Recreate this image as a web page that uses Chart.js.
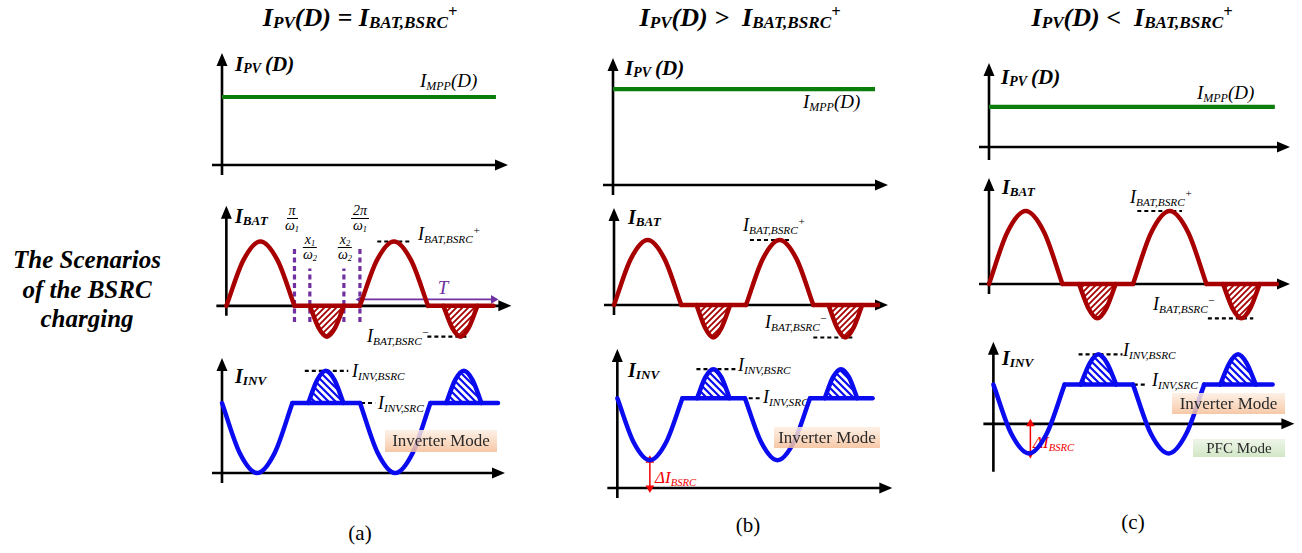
<!DOCTYPE html>
<html>
<head>
<meta charset="utf-8">
<title>BSRC charging scenarios</title>
<script src="https://cdn.jsdelivr.net/npm/chart.js@4.4.0/dist/chart.umd.min.js"></script>
<style>
  html, body { margin: 0; padding: 0; background: #fff; }
  #page {
    position: relative; width: 1302px; height: 553px; overflow: hidden;
    font-family: "Liberation Serif", "Tinos", "Times New Roman", Times, "DejaVu Serif", serif; color: #000;
  }
  #page canvas { position: absolute; z-index: 2; }
  .lbl { position: absolute; white-space: nowrap; line-height: 1; font-style: italic; z-index: 1; }
  .lbl sub { font-size: 0.63em; vertical-align: -0.28em; line-height: 0; }
  .lbl sup { font-size: 0.63em; vertical-align: 0.55em; line-height: 0; }
  .bold { font-weight: bold; }
  .bold sub { font-size: 0.66em; vertical-align: -0.14em; }
  .plain { font-style: normal; }
  .frac {
    position: absolute; display: flex; flex-direction: column; align-items: center;
    font-style: italic; font-size: 14px; line-height: 14px; transform: translateX(-50%); z-index: 1;
  }
  .frac .num { border-bottom: 1px solid #000; padding: 0 2px; }
  .frac sub { font-size: 0.6em; line-height: 0; vertical-align: -0.2em; }
  .mode {
    position: absolute; z-index: 3; display: flex; align-items: center; justify-content: center;
    font-size: 17px; color: #2a2a2a; white-space: nowrap;
  }
  .inverter { background: linear-gradient(180deg, rgba(253,238,226,0.85) 0%, rgba(248,206,175,0.85) 70%, rgba(244,190,152,0.85) 100%); }
  .pfc { background: linear-gradient(180deg, rgba(236,244,230,0.9) 0%, rgba(205,228,192,0.9) 100%); font-size: 15px; }
</style>
</head>
<body>
<div id="page"></div>
<script>
// ---- waveform data (time in arbitrary units, one grid period = 20) ----
const pvT = [0, 39.7];
const chargeT1 = [0, 2.55, 5.1, 7.65, 10.2];
const chargeT2 = [20, 22.55, 25.1, 27.65, 30.2];
const dischargeT1 = [12.5, 13.8, 15.05, 16.3, 17.6];
const dischargeT2 = [32.5, 33.8, 35.05, 36.3, 37.6];
const idleT1 = [10.2, 20];
const idleT2 = [30.2, 40];

// PV current level for scenarios (a), (b), (c)
const pvLevel = [1.0, 1.41, 0.59];

// battery current: charging lobe (same in every scenario) and discharging lobe
const batCharge = [0, 0.71, 1, 0.71, 0];
const batDischargeA = [0, -0.34, -0.48, -0.34, 0];
const batDischargeB = [0, -0.35, -0.5, -0.35, 0];
const batDischargeC = [0, -0.33, -0.47, -0.33, 0];

// inverter current: dip while the battery charges, hump while it discharges
const invDipA = [1.0, 0.29, 0, 0.29, 1.0];
const invHumpA = [1.0, 1.33, 1.46, 1.33, 1.0];
const invDipB = [1.45, 0.74, 0.45, 0.74, 1.45];
const invHumpB = [1.45, 1.79, 1.92, 1.79, 1.45];
const invDipC = [0.57, -0.14, -0.43, -0.14, 0.57];
const invHumpC = [0.57, 0.88, 1.01, 0.88, 0.57];

// spans of the dashed level markers
const batPeakRef = [[22.6, 27.7], [20.6, 26.7], [20.6, 26.8]];
const batDipRef = [[30.1, 36.4], [30.2, 36.5], [30.4, 36.7]];
const invBsrcRef = [[12.0, 18.3], [12.4, 18.5], [12.2, 18.5]];
const invSrcRef = [[17.1, 22.2], [17.3, 22.3], [17.1, 22.1]];

// switching instants marked in scenario (a): pi/w1, x1/w2, x2/w2, 2pi/w1
const markT = [10.2, 12.5, 17.6, 20];
const markTop = [0.91, 0.58, 0.58, 0.91];
const markBottom = -0.25;
const periodSpan = [20.1, 40];
const periodLevel = 0.1;

// delta I_BSRC arrows in (b) and (c)
const deltaT = [5.1, 5.3];

const RED = '#a80000', BLUE = '#0b0bf0', GREEN = '#0a7d0a', PURPLE = '#7030a0';

// pixel frames of the nine plots: origin, scale per unit, axis extents
const frames = {
  pvA:  { ox: 222, oy: 165, sx: 6.9, sy: 68, tip: 508, yTop: 53, yBot: 175, bottom: 182 },
  batA: { ox: 222, oy: 308, sx: 6.9, sy: 69, tip: 507, yTop: 208, yBot: 318, bottom: 350 },
  invA: { ox: 222, oy: 473, sx: 6.9, sy: 70, tip: 505, yTop: 358, yBot: 483, bottom: 490 },
  pvB:  { ox: 613, oy: 185, sx: 6.6, sy: 68, tip: 888, yTop: 58, yBot: 195, bottom: 202 },
  batB: { ox: 614, oy: 305, sx: 6.6, sy: 65, tip: 888, yTop: 208, yBot: 315, bottom: 346 },
  invB: { ox: 613, oy: 492, sx: 6.6, sy: 66, tip: 888, yTop: 353, yBot: 502, bottom: 508 },
  pvC:  { ox: 989, oy: 147, sx: 7.2, sy: 68, tip: 1290, yTop: 63, yBot: 160, bottom: 166 },
  batC: { ox: 989, oy: 284, sx: 7.2, sy: 73, tip: 1290, yTop: 178, yBot: 294, bottom: 326 },
  invC: { ox: 989, oy: 425, sx: 7.2, sy: 74, tip: 1290, yTop: 343, yBot: 473, bottom: 480 }
};

const page = document.getElementById('page');

// diagonal hatch used inside the shaded lobes
function hatch(color, dir, size, width) {
  const c = document.createElement('canvas');
  c.width = c.height = size;
  const g = c.getContext('2d');
  g.strokeStyle = color;
  g.lineWidth = width;
  g.beginPath();
  const h = size / 2;
  if (dir > 0) {
    g.moveTo(0, size); g.lineTo(size, 0);
    g.moveTo(-h, h); g.lineTo(h, -h);
    g.moveTo(h, size + h); g.lineTo(size + h, h);
  } else {
    g.moveTo(0, 0); g.lineTo(size, size);
    g.moveTo(-h, h); g.lineTo(h, size + h);
    g.moveTo(h, -h); g.lineTo(size + h, h);
  }
  g.stroke();
  return g.createPattern(c, 'repeat');
}
const redHatch = hatch(RED, 1, 6, 1.8);
const blueHatch = hatch(BLUE, -1, 7, 2.2);

// x/y axes with arrow heads, drawn under the waveforms
const axisArrows = {
  id: 'axisArrows',
  beforeDatasetsDraw(chart, args, f) {
    const { ctx, scales: { x, y } } = chart;
    const x0 = x.getPixelForValue(0);
    const y0 = y.getPixelForValue(0);
    const tipX = x0 + (f.tip - f.ox);
    const topY = y0 - (f.oy - f.yTop);
    const botY = y0 + (f.yBot - f.oy);
    ctx.save();
    ctx.strokeStyle = '#000';
    ctx.fillStyle = '#000';
    ctx.lineWidth = 2.6;
    ctx.beginPath();
    ctx.moveTo(x0 - 10, y0); ctx.lineTo(tipX - 8, y0);
    ctx.moveTo(x0, botY); ctx.lineTo(x0, topY + 8);
    ctx.stroke();
    ctx.beginPath();
    ctx.moveTo(tipX, y0); ctx.lineTo(tipX - 13, y0 - 5.5); ctx.lineTo(tipX - 13, y0 + 5.5);
    ctx.closePath();
    ctx.moveTo(x0, topY); ctx.lineTo(x0 - 5.5, topY + 13); ctx.lineTo(x0 + 5.5, topY + 13);
    ctx.closePath();
    ctx.fill();
    ctx.restore();
  }
};

function pts(xs, ys) {
  return xs.map((x, i) => ({ x: x, y: ys[i] }));
}

function wave(xs, ys, color, extra) {
  return Object.assign({
    data: pts(xs, ys),
    borderColor: color,
    borderWidth: 4.5,
    pointRadius: 0,
    cubicInterpolationMode: 'monotone',
    fill: false,
    clip: false,
    borderCapStyle: 'round',
    borderJoinStyle: 'round'
  }, extra || {});
}

function dashed(span, level, color, width, dash) {
  return {
    data: pts(span, [level, level]),
    borderColor: color || '#000',
    borderWidth: width || 2.2,
    borderDash: dash || [4, 3],
    pointRadius: 0,
    fill: false,
    clip: false
  };
}

function arrow(xs, ys, color, rotations, width) {
  return {
    data: pts(xs, ys),
    borderColor: color,
    backgroundColor: color,
    borderWidth: width,
    pointStyle: 'triangle',
    pointRadius: 5,
    pointBorderWidth: 0,
    pointBackgroundColor: color,
    pointRotation: rotations,
    fill: false,
    clip: false
  };
}

function makePlot(f, datasets) {
  const left = f.ox - 20, right = f.tip + 6, top = f.yTop - 6, bottom = f.bottom;
  const canvas = document.createElement('canvas');
  canvas.width = right - left;
  canvas.height = bottom - top;
  canvas.style.left = left + 'px';
  canvas.style.top = top + 'px';
  page.appendChild(canvas);
  return new Chart(canvas, {
    type: 'line',
    data: { datasets: datasets },
    options: {
      responsive: false,
      animation: false,
      events: [],
      layout: { padding: 0 },
      plugins: {
        legend: { display: false },
        tooltip: { enabled: false },
        axisArrows: f
      },
      scales: {
        x: { type: 'linear', display: false, min: (left - f.ox) / f.sx, max: (right - f.ox) / f.sx },
        y: { type: 'linear', display: false, min: (f.oy - bottom) / f.sy, max: (f.oy - top) / f.sy }
      }
    },
    plugins: [axisArrows]
  });
}

function pvSets(level) {
  return [wave(pvT, [level, level], GREEN, { borderWidth: 4.2, borderCapStyle: 'butt' })];
}

function batSets(dis, peakRef, dipRef) {
  const fillDis = { fill: 'origin', backgroundColor: redHatch };
  return [
    wave(chargeT1, batCharge, RED),
    wave(dischargeT1, dis, RED, fillDis),
    wave(idleT1, [0, 0], RED),
    wave(chargeT2, batCharge, RED),
    wave(dischargeT2, dis, RED, fillDis),
    wave(idleT2, [0, 0], RED),
    dashed(peakRef, batCharge[2]),
    dashed(dipRef, dis[2])
  ];
}

function invSets(dip, hump, bsrcRef, srcRef) {
  const level = dip[0];
  const fillHump = { fill: { value: level }, backgroundColor: blueHatch };
  return [
    wave(chargeT1, dip, BLUE),
    wave(dischargeT1, hump, BLUE, fillHump),
    wave(idleT1, [level, level], BLUE),
    wave(chargeT2, dip, BLUE),
    wave(dischargeT2, hump, BLUE, fillHump),
    wave(idleT2, [level, level], BLUE),
    dashed(bsrcRef, hump[2]),
    dashed(srcRef, level)
  ];
}

// scenario (a)
makePlot(frames.pvA, pvSets(pvLevel[0]));
const batA = batSets(batDischargeA, batPeakRef[0], batDipRef[0]);
markT.forEach((t, i) => {
  batA.push({
    data: pts([t, t], [markBottom, markTop[i]]),
    borderColor: PURPLE, borderWidth: 3.2, borderDash: [5, 3.5],
    pointRadius: 0, fill: false, clip: false
  });
});
batA.push(arrow(periodSpan, [periodLevel, periodLevel], PURPLE, [270, 90], 1.6));
makePlot(frames.batA, batA);
makePlot(frames.invA, invSets(invDipA, invHumpA, invBsrcRef[0], invSrcRef[0]));

// scenario (b)
makePlot(frames.pvB, pvSets(pvLevel[1]));
makePlot(frames.batB, batSets(batDischargeB, batPeakRef[1], batDipRef[1]));
const invB = invSets(invDipB, invHumpB, invBsrcRef[1], invSrcRef[1]);
invB.push(arrow([deltaT[0], deltaT[0]], [0, invDipB[2]], '#f00000', [180, 0], 1.5));
makePlot(frames.invB, invB);

// scenario (c)
makePlot(frames.pvC, pvSets(pvLevel[2]));
makePlot(frames.batC, batSets(batDischargeC, batPeakRef[2], batDipRef[2]));
const invC = invSets(invDipC, invHumpC, invBsrcRef[2], invSrcRef[2]);
invC.push(arrow([deltaT[1], deltaT[1]], [invDipC[2], 0], '#f00000', [180, 0], 1.5));
makePlot(frames.invC, invC);

// ---- text ----
function label(html, x, base, size, cls, center, color) {
  const d = document.createElement('div');
  d.className = 'lbl' + (cls ? ' ' + cls : '');
  d.innerHTML = html;
  d.style.fontSize = size + 'px';
  d.style.left = x + 'px';
  d.style.top = (base - 0.838 * size) + 'px';
  if (center) d.style.transform = 'translateX(-50%)';
  if (color) d.style.color = color;
  page.appendChild(d);
}

function frac(num, den, x, barY) {
  const d = document.createElement('div');
  d.className = 'frac';
  d.innerHTML = '<span class="num">' + num + '</span><span>' + den + '</span>';
  d.style.left = x + 'px';
  d.style.top = (barY - 14) + 'px';
  page.appendChild(d);
}

function modeBox(text, cls, x, y, w, h) {
  const d = document.createElement('div');
  d.className = 'mode ' + cls;
  d.textContent = text;
  d.style.left = x + 'px';
  d.style.top = y + 'px';
  d.style.width = w + 'px';
  d.style.height = h + 'px';
  page.appendChild(d);
}

label('I<sub>PV</sub>(D) = I<sub>BAT,BSRC</sub><sup>+</sup>', 360, 27, 26, 'bold', true);
label('I<sub>PV</sub>(D) &gt;&nbsp; I<sub>BAT,BSRC</sub><sup>+</sup>', 740, 27, 26, 'bold', true);
label('I<sub>PV</sub>(D) &lt;&nbsp; I<sub>BAT,BSRC</sub><sup>+</sup>', 1132, 27, 26, 'bold', true);

label('The Scenarios', 87, 268, 25, 'bold', true);
label('of the BSRC', 87, 298, 25, 'bold', true);
label('charging', 87, 327, 25, 'bold', true);

// axis names
[[235, 72], [625, 76], [1001, 85]].forEach(p => label('I<sub>PV</sub>&thinsp;(D)', p[0], p[1], 21, 'bold'));
[[235, 223], [628, 224], [1002, 194]].forEach(p => label('I<sub>BAT</sub>', p[0], p[1], 20, 'bold'));
[[235, 383], [628, 377], [1002, 365]].forEach(p => label('I<sub>INV</sub>', p[0], p[1], 20, 'bold'));

// level names
[[420, 87], [803, 108], [1197, 99]].forEach(p => label('I<sub>MPP</sub>(D)', p[0], p[1], 19));
[[418, 240], [743, 231], [1130, 203]].forEach(p => label('I<sub>BAT,BSRC</sub><sup>+</sup>', p[0], p[1], 18));
[[367, 342], [765, 328], [1153, 310]].forEach(p => label('I<sub>BAT,BSRC</sub><sup>&minus;</sup>', p[0], p[1], 18));
[[352, 377], [738, 371], [1123, 356]].forEach(p => label('I<sub>INV,BSRC</sub>', p[0], p[1], 18));
[[378, 409], [763, 403], [1152, 386]].forEach(p => label('I<sub>INV,SRC</sub>', p[0], p[1], 18));
[[655, 483], [1033, 448]].forEach(p => label('&Delta;I<sub>BSRC</sub>', p[0], p[1], 17, '', false, '#f00000'));

label('T', 443, 294, 19, '', true, PURPLE);
frac('&pi;', '&omega;<sub>1</sub>', 292, 218);
frac('x<sub>1</sub>', '&omega;<sub>2</sub>', 310, 247);
frac('x<sub>2</sub>', '&omega;<sub>2</sub>', 345, 247);
frac('2&pi;', '&omega;<sub>1</sub>', 360, 218);

modeBox('Inverter Mode', 'inverter', 385, 430, 112, 22);
modeBox('Inverter Mode', 'inverter', 774, 427, 106, 21);
modeBox('Inverter Mode', 'inverter', 1172, 393, 113, 21);
modeBox('PFC Mode', 'pfc', 1193, 439, 92, 18);

label('(a)', 360, 541, 21, 'plain', true);
label('(b)', 748, 533, 21, 'plain', true);
label('(c)', 1133, 530, 21, 'plain', true);
</script>
</body>
</html>
